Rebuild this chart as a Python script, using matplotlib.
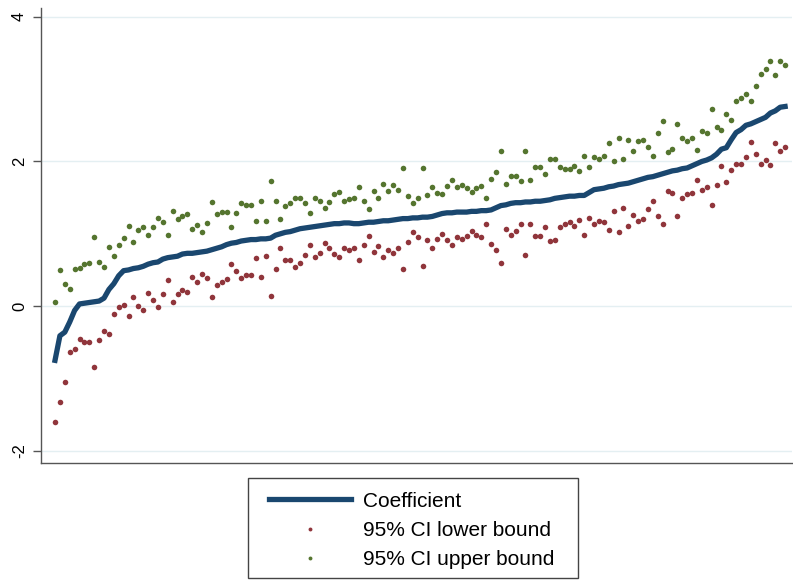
import numpy as np
import matplotlib
matplotlib.use("Agg")
import matplotlib.pyplot as plt
from matplotlib.patches import Rectangle

plt.rcParams['font.family'] = ['Liberation Sans', 'DejaVu Sans']

# point estimates, sorted from smallest to largest
coef = [
    -0.75, -0.41, -0.36, -0.22, -0.06, 0.03, 0.04, 0.05, 0.06, 0.07,
    0.11, 0.23, 0.31, 0.42, 0.49, 0.50, 0.52, 0.53, 0.55, 0.58,
    0.60, 0.61, 0.65, 0.67, 0.68, 0.69, 0.72, 0.73, 0.73, 0.74,
    0.75, 0.76, 0.78, 0.80, 0.82, 0.85, 0.87, 0.88, 0.90, 0.91,
    0.92, 0.92, 0.93, 0.93, 0.94, 0.98, 1.00, 1.02, 1.03, 1.05,
    1.07, 1.08, 1.09, 1.10, 1.11, 1.12, 1.13, 1.14, 1.14, 1.15,
    1.15, 1.14, 1.14, 1.15, 1.16, 1.16, 1.17, 1.18, 1.18, 1.19,
    1.20, 1.21, 1.21, 1.22, 1.22, 1.23, 1.23, 1.24, 1.26, 1.28,
    1.29, 1.29, 1.30, 1.30, 1.30, 1.31, 1.31, 1.32, 1.32, 1.33,
    1.36, 1.39, 1.40, 1.42, 1.43, 1.43, 1.44, 1.44, 1.45, 1.45,
    1.46, 1.47, 1.49, 1.50, 1.51, 1.52, 1.52, 1.53, 1.53, 1.57,
    1.61, 1.62, 1.63, 1.65, 1.66, 1.68, 1.69, 1.70, 1.72, 1.74,
    1.76, 1.78, 1.79, 1.81, 1.83, 1.85, 1.87, 1.88, 1.90, 1.91,
    1.94, 1.97, 2.00, 2.02, 2.05, 2.10, 2.17, 2.19, 2.30, 2.40,
    2.44, 2.50, 2.52, 2.55, 2.58, 2.61, 2.67, 2.70, 2.75, 2.76,
]

ci_low = [
    -1.60, -1.32, -1.05, -0.64, -0.59, -0.46, -0.50, -0.50, -0.84, -0.47,
    -0.35, -0.38, -0.11, -0.01, 0.02, -0.13, 0.12, 0.00, -0.05, 0.18,
    0.09, -0.01, 0.17, 0.36, 0.05, 0.17, 0.22, 0.19, 0.40, 0.34,
    0.45, 0.39, 0.12, 0.29, 0.33, 0.37, 0.58, 0.48, 0.39, 0.43,
    0.43, 0.66, 0.40, 0.69, 0.14, 0.52, 0.81, 0.64, 0.64, 0.54,
    0.59, 0.70, 0.84, 0.68, 0.73, 0.87, 0.81, 0.72, 0.68, 0.81,
    0.77, 0.80, 0.64, 0.84, 0.97, 0.75, 0.83, 0.68, 0.78, 0.73,
    0.81, 0.51, 0.88, 1.02, 0.96, 0.55, 0.92, 0.81, 0.93, 1.00,
    0.92, 0.85, 0.95, 0.93, 0.97, 1.04, 0.98, 0.96, 1.13, 0.86,
    0.78, 0.59, 1.07, 0.99, 1.04, 1.13, 0.71, 1.13, 0.97, 0.97,
    1.09, 0.90, 0.91, 1.09, 1.13, 1.16, 1.11, 1.19, 0.99, 1.22,
    1.13, 1.17, 1.16, 1.05, 1.32, 1.02, 1.35, 1.11, 1.26, 1.17,
    1.20, 1.34, 1.46, 1.25, 1.14, 1.59, 1.57, 1.25, 1.49, 1.55,
    1.56, 1.74, 1.60, 1.65, 1.40, 1.67, 1.94, 1.72, 1.88, 1.97,
    1.96, 2.06, 2.27, 2.10, 1.96, 2.02, 1.95, 2.26, 2.14, 2.20,
]

ci_high = [
    0.06, 0.50, 0.31, 0.23, 0.52, 0.53, 0.58, 0.60, 0.96, 0.61,
    0.54, 0.82, 0.69, 0.85, 0.94, 1.11, 0.89, 1.05, 1.10, 0.98,
    1.10, 1.22, 1.16, 0.99, 1.32, 1.20, 1.25, 1.27, 1.06, 1.12,
    1.03, 1.15, 1.44, 1.27, 1.30, 1.30, 1.10, 1.29, 1.42, 1.40,
    1.40, 1.18, 1.45, 1.17, 1.73, 1.45, 1.21, 1.38, 1.42, 1.50,
    1.50, 1.42, 1.29, 1.50, 1.46, 1.35, 1.44, 1.55, 1.58, 1.45,
    1.48, 1.49, 1.65, 1.45, 1.34, 1.59, 1.50, 1.69, 1.59, 1.68,
    1.60, 1.91, 1.52, 1.42, 1.49, 1.91, 1.54, 1.65, 1.57, 1.55,
    1.66, 1.74, 1.64, 1.68, 1.63, 1.58, 1.63, 1.66, 1.49, 1.76,
    1.85, 2.15, 1.69, 1.80, 1.80, 1.73, 2.15, 1.74, 1.92, 1.92,
    1.83, 2.04, 2.03, 1.92, 1.90, 1.89, 1.94, 1.87, 2.07, 1.92,
    2.06, 2.03, 2.07, 2.25, 2.01, 2.33, 2.04, 2.30, 2.15, 2.28,
    2.29, 2.20, 2.08, 2.39, 2.56, 2.13, 2.17, 2.52, 2.33, 2.28,
    2.32, 2.16, 2.42, 2.40, 2.72, 2.48, 2.43, 2.66, 2.58, 2.84,
    2.88, 2.93, 2.84, 3.04, 3.21, 3.28, 3.39, 3.19, 3.39, 3.34,
]

rank = np.arange(len(coef))

navy = '#1a476f'
maroon = '#90353b'
green = '#55752f'

fig = plt.figure(figsize=(7.93, 5.81), dpi=100)
ax = fig.add_axes([0.0517, 0.203, 0.947, 0.783])

ax.plot(rank, coef, color=navy, lw=3.8, solid_joinstyle='round', label='Coefficient', zorder=3)
ax.plot(rank, ci_low, 'o', color=maroon, ms=4, mew=0, label='95% CI lower bound', zorder=2)
ax.plot(rank, ci_high, 'o', color=green, ms=4, mew=0, label='95% CI upper bound', zorder=2)

ax.set_xlim(-2.86, 150.4)
ax.set_ylim(-2.17, 4.12)
ax.set_yticks([-2, 0, 2, 4])
ax.set_yticklabels(['-2', '0', '2', '4'], rotation=90, va='center', fontsize=12)
ax.set_xticks([])
ax.grid(axis='y', color='#e4eff2', lw=1)
ax.set_axisbelow(True)

for side in ('top', 'right'):
    ax.spines[side].set_visible(False)
for side in ('left', 'bottom'):
    ax.spines[side].set_color('#555555')
    ax.spines[side].set_linewidth(1.0)
ax.tick_params(axis='y', length=6, width=1, color='#555555', pad=4)

# legend entries without frame, then a plain box around them
leg = ax.legend(loc='center', bbox_to_anchor=(0.5195, 0.087),
                bbox_transform=fig.transFigure, fontsize=15, frameon=False,
                handlelength=3.9, handletextpad=0.6, labelspacing=0.5,
                borderpad=0, borderaxespad=0, markerscale=0.7)
fig.add_artist(Rectangle((0.3127, 0.0052), 0.4161, 0.1721, transform=fig.transFigure,
                         fill=False, edgecolor='#444444', lw=1.0))

fig.savefig('out.png', dpi=100, facecolor='white')
